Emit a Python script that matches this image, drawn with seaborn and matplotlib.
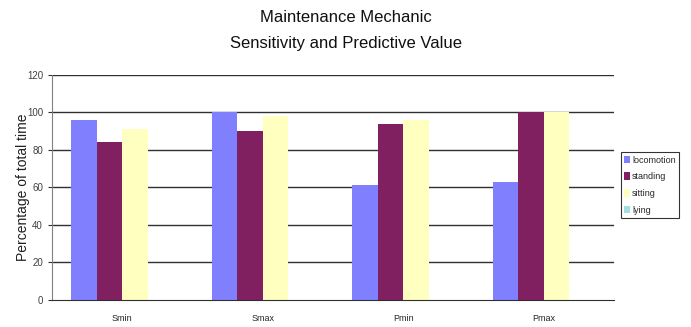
import pandas as pd
import matplotlib.pyplot as plt
import seaborn as sns

categories = ['Smin', 'Smax', 'Pmin', 'Pmax']
series = ['locomotion', 'standing', 'sitting', 'lying']
locomotion = [96, 100, 61, 63]
standing = [84, 90, 94, 100]
sitting = [91, 98, 96, 100]
lying = [0, 0, 0, 0]
colors = ['#8080FF', '#802060', '#FFFFC0', '#A0E0E0']

# long format for seaborn
rows = []
for name, vals in zip(series, [locomotion, standing, sitting, lying]):
    for cat, v in zip(categories, vals):
        rows.append({'cat': cat, 'series': name, 'value': v})
df = pd.DataFrame(rows)

sns.set_style('white')
plt.rcParams['font.family'] = ['Liberation Sans', 'DejaVu Sans']

fig = plt.figure(figsize=(6.91, 3.27), dpi=100)
ax = fig.add_axes([0.0753, 0.0826, 0.8133, 0.689])

sns.barplot(data=df, x='cat', y='value', hue='series', hue_order=series,
            order=categories, palette=colors, width=0.726, saturation=1,
            linewidth=0, ax=ax, legend=True)

ax.set_ylim(0, 120)
ax.set_yticks(range(0, 121, 20))
ax.set_xlim(-0.5, 3.5)
for y in range(20, 121, 20):
    ax.axhline(y, color='#303030', lw=1, zorder=0)
ax.set_axisbelow(True)

for s in ['top', 'right']:
    ax.spines[s].set_visible(False)
ax.spines['left'].set_color('#808080')
ax.spines['bottom'].set_color('#303030')

# category labels centred, tick marks between categories
ax.set_xticks(range(len(categories)))
ax.set_xticklabels(categories, fontsize=6.5)
ax.tick_params(axis='x', length=0, pad=10)
ax.set_xticks([0.5, 1.5, 2.5, 3.5], minor=True)
ax.tick_params(axis='x', which='minor', length=4, direction='inout', color='#303030')
ax.tick_params(axis='y', length=3, direction='out', color='#303030', labelsize=7,
               labelcolor='#404040', left=True)

ax.set_xlabel('')
ax.set_ylabel('Percentage of total time', fontsize=10, color='#202020')
ax.yaxis.set_label_coords(-0.04, 0.5)

fig.text(0.5, 0.946, 'Maintenance Mechanic', ha='center', va='center', fontsize=12,
         color='#101010')
fig.text(0.5, 0.866, 'Sensitivity and Predictive Value', ha='center', va='center',
         fontsize=12, color='#101010')

leg = ax.legend(loc='center left', bbox_to_anchor=(1.012, 0.51), fontsize=6.5,
                frameon=True, fancybox=False, edgecolor='black',
                handlelength=0.7, handleheight=0.9, handletextpad=0.2,
                labelspacing=0.85, borderpad=0.35, borderaxespad=0)
leg.get_frame().set_linewidth(0.8)

fig.savefig('out.png', dpi=100)
